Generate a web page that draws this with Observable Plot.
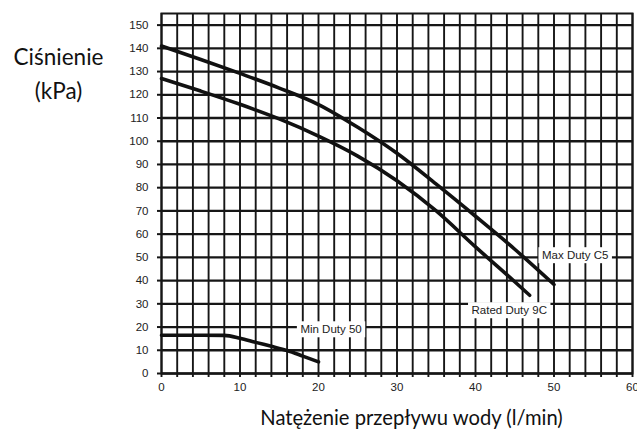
<!DOCTYPE html>
<html><head><meta charset="utf-8">
<script src="https://cdn.jsdelivr.net/npm/d3@7"></script>
<script src="https://cdn.jsdelivr.net/npm/@observablehq/plot@0.6"></script>
<style>body{margin:0;background:#fff}#chart svg{display:block}</style>
</head><body><div id="chart"></div>
<script>
// Flow (l/min) and pressure (kPa)
const flowMax = [0, 5, 10, 15, 20, 25, 30, 35, 40, 45, 50];
const pressureMax = [141, 135.2, 129.2, 122.9, 115.8, 106, 94.8, 81.5, 67.7, 53.5, 38.3];
const flowRated = [0, 5, 10, 15, 20, 25, 30, 35, 40, 45, 46.9];
const pressureRated = [127, 121.6, 115.9, 109.6, 102.2, 93.6, 83, 70, 54.5, 39.5, 33.7];
const flowMin = [0, 4, 8, 10, 12, 14, 16, 18, 20];
const pressureMin = [16.5, 16.5, 16.4, 15.2, 13.4, 11.7, 9.9, 7.5, 5];
const seriesNames = ["Max Duty C5", "Rated Duty 9C", "Min Duty 50"];
const labelFlow = [52.7, 44.3, 21.6];
const labelPressure = [50.8, 27.1, 18.9];
const yTicks = [0, 10, 20, 30, 40, 50, 60, 70, 80, 90, 100, 110, 120, 130, 140, 150];
const xTicks = [0, 10, 20, 30, 40, 50, 60];
const yTitle = "Ciśnienie\n(kPa)";
const xTitle = "Natężenie przepływu wody (l/min)";

const rows = [];
[[flowMax, pressureMax], [flowRated, pressureRated], [flowMin, pressureMin]].forEach(([xs, ys], i) => {
  xs.forEach((x, j) => rows.push({series: seriesNames[i], flow: x, pressure: ys[j]}));
});
const labels = seriesNames.map((name, i) => ({name, flow: labelFlow[i], pressure: labelPressure[i]}));

const ink = "#161616";
const titleFont = "Lato, 'Open Sans', sans-serif";

const chart = Plot.plot({
  width: 637,
  height: 438,
  marginLeft: 161,
  marginRight: 5,
  marginTop: 13,
  marginBottom: 65,
  style: {fontFamily: "'Liberation Sans', Arial, sans-serif", fontSize: "11.5px", color: "#222", background: "#fff"},
  x: {domain: [0, 60]},
  y: {domain: [0, 155]},
  marks: [
    Plot.gridX({interval: 2, stroke: ink, strokeOpacity: 1, strokeWidth: 1.9}),
    Plot.gridY(yTicks, {stroke: ink, strokeOpacity: 1, strokeWidth: 2.3}),
    Plot.frame({stroke: ink, strokeWidth: 2}),
    Plot.axisX({interval: 2, tickSize: 4, stroke: ink, strokeWidth: 1.9, tickFormat: () => "", label: null}),
    Plot.axisX(xTicks, {tickSize: 0, tickPadding: 9, label: null, fill: "#222"}),
    Plot.axisY(yTicks, {tickSize: 4, tickPadding: 9, stroke: ink, strokeWidth: 2, label: null, fill: "#222"}),
    Plot.line(rows, {x: "flow", y: "pressure", z: "series", curve: "monotone-x", stroke: "#111", strokeWidth: 3.6}),
    Plot.text(labels, {x: "flow", y: "pressure", text: "name", fill: "#222", fontSize: 11.5}),
    Plot.text([yTitle], {frameAnchor: "top-left", dx: -103, dy: 27, fontSize: 22.5, lineHeight: 1.52, fill: "#111", fontFamily: titleFont, textAnchor: "middle"}),
    Plot.text([xTitle], {frameAnchor: "bottom", dx: 14.5, dy: 51, fontSize: 20.2, fill: "#111", fontFamily: titleFont, textAnchor: "middle"})
  ]
});
document.getElementById("chart").appendChild(chart);

// white boxes behind the series labels
const NS = "http://www.w3.org/2000/svg";
Array.from(chart.querySelectorAll("text"))
  .filter(t => seriesNames.includes(t.textContent))
  .forEach(t => {
    const b = t.getBBox();
    const r = document.createElementNS(NS, "rect");
    r.setAttribute("x", b.x - 3.5);
    r.setAttribute("y", b.y - 2);
    r.setAttribute("width", b.width + 7);
    r.setAttribute("height", b.height + 4);
    r.setAttribute("fill", "#fff");
    const tr = t.getAttribute("transform");
    if (tr) r.setAttribute("transform", tr);
    t.parentNode.insertBefore(r, t);
  });
</script></body></html>
